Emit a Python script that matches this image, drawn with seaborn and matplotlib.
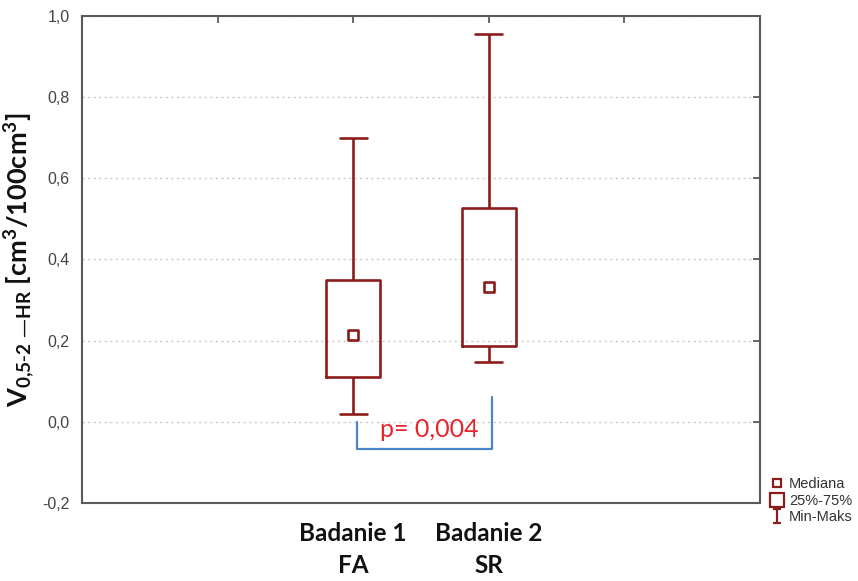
import numpy as np
import pandas as pd
import matplotlib
matplotlib.use("Agg")
import matplotlib.pyplot as plt
from matplotlib.lines import Line2D
from matplotlib.path import Path
from matplotlib.ticker import FuncFormatter
import seaborn as sns

# Five-number summaries (min, Q1, median, Q3, max) for each examination
groups = ["Badanie 1\nFA", "Badanie 2\nSR"]
badanie1 = [0.02, 0.11, 0.215, 0.35, 0.70]
badanie2 = [0.148, 0.186, 0.331, 0.527, 0.955]
medians = [badanie1[2], badanie2[2]]
y_ticks = [-0.2, 0.0, 0.2, 0.4, 0.6, 0.8, 1.0]
p_label = "p= 0,004"
legend_labels = ["Mediana", "25%-75%", "Min-Maks"]

BOX = "#8c1c1c"
GRID = "#c9c9c9"
SPINE = "#5a5a5a"

sns.set_style("white")
plt.rcParams["mathtext.default"] = "regular"

df = pd.DataFrame({
    "grupa": [groups[0]] * len(badanie1) + [groups[1]] * len(badanie2),
    "V": badanie1 + badanie2,
})

fig = plt.figure(figsize=(8.58, 5.81), dpi=100)
ax = fig.add_axes([0.0956, 0.1343, 0.7902, 0.8382])

# Whiskers span min..max, box spans the quartiles
sns.boxplot(data=df, x="grupa", y="V", order=groups, whis=(0, 100), width=0.4,
            fill=False, color=BOX, linewidth=1.9, ax=ax,
            medianprops={"visible": False})
sns.scatterplot(x=[0, 1], y=medians, marker="s", s=50, facecolor="white",
                edgecolor=BOX, linewidth=1.9, ax=ax, zorder=5, legend=False)

ax.set_xlim(-2, 3)
ax.set_ylim(-0.2, 1.0)
ax.set_xticks([-1, 0, 1, 2])
ax.set_xticklabels(["", groups[0], groups[1], ""], fontfamily="Lato",
                   fontweight="bold", fontsize=17.5, color="#111111",
                   linespacing=1.45)
ax.set_yticks(y_ticks)
ax.yaxis.set_major_formatter(FuncFormatter(lambda v, _: f"{v:.1f}".replace(".", ",")))
for lab in ax.get_yticklabels():
    lab.set_fontfamily("Liberation Sans")
ax.tick_params(axis="y", labelsize=11.5, labelcolor="#444444", direction="in",
               length=5, width=1.3, color=SPINE, right=True, pad=9)
ax.tick_params(axis="x", direction="in", length=5, width=1.3, color=SPINE,
               top=True, pad=14)
ax.set_xlabel("")
ax.set_ylabel(r"V$_{0{,}5\text{-}2\ —HR}$ [cm$^3$/100cm$^3$]", fontfamily="Lato",
              fontweight="bold", fontsize=19.5, color="#111111", labelpad=3)

ax.yaxis.grid(True, linestyle=(0, (1.5, 2.5)), color=GRID, linewidth=1)
ax.xaxis.grid(False)
ax.set_axisbelow(True)
for sp in ax.spines.values():
    sp.set_visible(True)
    sp.set_color(SPINE)
    sp.set_linewidth(1.5)

# Significance bracket between the two examinations
ax.plot([0.03, 0.03, 1.02, 1.02], [0.0, -0.068, -0.068, 0.062],
        color="#4a86c6", linewidth=1.6, zorder=3)
ax.text(0.56, -0.018, p_label, color="#e8232c", fontsize=18, fontfamily="Lato",
        ha="center", va="center")

# Legend placed outside the plotting area
ibeam = Path([(-0.6, 1), (0.6, 1), (0, 1), (0, -1), (-0.6, -1), (0.6, -1)],
             [Path.MOVETO, Path.LINETO, Path.MOVETO, Path.LINETO, Path.MOVETO, Path.LINETO])
handles = [
    Line2D([], [], linestyle="none", marker="s", markersize=6, markerfacecolor="white",
           markeredgecolor=BOX, markeredgewidth=1.6),
    Line2D([], [], linestyle="none", marker="s", markersize=9.5, markerfacecolor="white",
           markeredgecolor=BOX, markeredgewidth=1.6),
    Line2D([], [], linestyle="none", marker=ibeam, markersize=10, markerfacecolor="none",
           markeredgecolor=BOX, markeredgewidth=1.6),
]
leg = fig.legend(handles, legend_labels, loc="lower left",
                 bbox_to_anchor=(760 / 858, 47 / 581), frameon=False,
                 handlelength=1.0, handletextpad=0.3, labelspacing=0.15,
                 borderpad=0.2, prop={"family": "Liberation Sans", "size": 10.5})
for t in leg.get_texts():
    t.set_color("#333333")

fig.savefig("out.png", dpi=100)
